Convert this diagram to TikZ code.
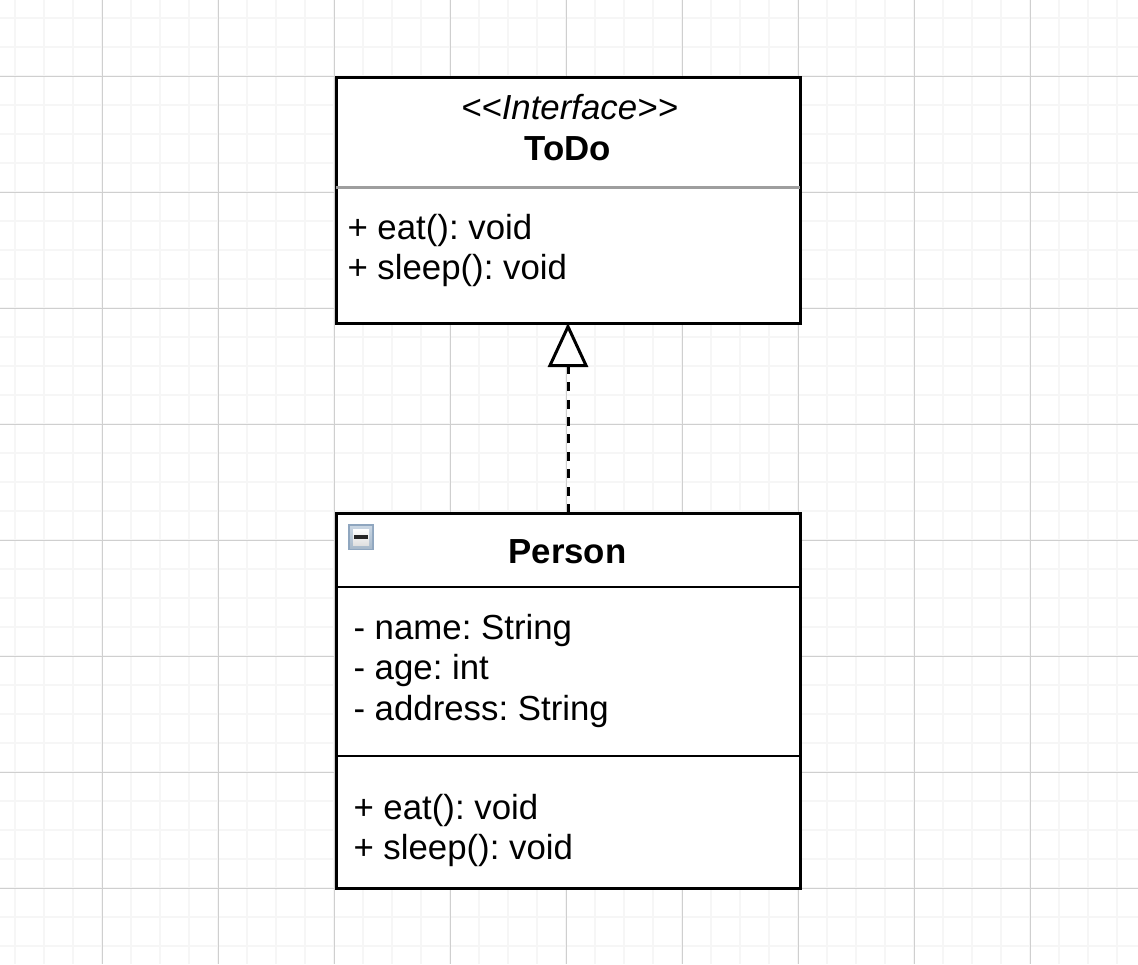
\documentclass[tikz,border=0pt]{standalone}
\usepackage{fontspec}
\setmainfont{Liberation Sans}
\frenchspacing
\usetikzlibrary{arrows.meta}
\definecolor{gridminor}{HTML}{F6F6F6}
\definecolor{gridmajor}{HTML}{CFCFCF}
\definecolor{iconedge}{HTML}{8FA6BF}
\definecolor{icontop}{HTML}{C9D6E3}
\definecolor{iconbot}{HTML}{A9BACB}
\tikzset{
  x=1pt,y=-1pt,
  classbox/.style={draw=black,line width=3pt,fill=white,minimum width=464pt,inner sep=0pt,outer sep=0pt},
  txt/.style={anchor=base west,inner sep=0pt,outer sep=0pt,font=\fontsize{34.8}{40}\selectfont},
  ctxt/.style={anchor=base,inner sep=0pt,outer sep=0pt,font=\fontsize{34.8}{40}\selectfont},
  divider/.style={draw=black,line width=2.7pt},
  softdivider/.style={draw=black!38,line width=3pt},
  realizes/.style={draw=black,line width=3pt,dash pattern=on 9pt off 8.4pt,
    -{Triangle[open,fill=white,length=44pt,width=40pt,line width=3pt]}},
}
\begin{document}
\begin{tikzpicture}
\useasboundingbox (0,0) rectangle (1138,964);
\fill[white] (0,0) rectangle (1138,964);
% minor grid
\foreach \k in {0,...,39} {\draw[gridminor,line width=2pt] ({15+29*\k},0) -- ({15+29*\k},964);}
\foreach \k in {0,...,33} {\draw[gridminor,line width=2pt] (0,{18+29*\k}) -- (1138,{18+29*\k});}
% major grid
\foreach \k in {0,...,8} {\draw[gridmajor,line width=1.3pt] ({102.5+116*\k},0) -- ({102.5+116*\k},964);}
\foreach \k in {0,...,7} {\draw[gridmajor,line width=1.3pt] (0,{76.5+116*\k}) -- (1138,{76.5+116*\k});}
% class boxes
\node[classbox,minimum height=246pt] (todo) at (568,200) {};
\node[classbox,minimum height=375pt] (person) at (568,700.5) {};
% dividers
\coordinate (todoL) at (336,187); \coordinate (todoR) at (800,187);
\coordinate (perL1) at (336,587); \coordinate (perR1) at (800,587);
\coordinate (perL2) at (336,756); \coordinate (perR2) at (800,756);
\draw[softdivider] (todoL) -- (todoR);
\draw[divider] (perL1) -- (perR1);
\draw[divider] (perL2) -- (perR2);
% connector
\draw[realizes] (person.north) -- (todo.south);
% ToDo texts
\node[ctxt] (stereo) at (569.5,119) {\itshape <{}<Interface>{}>};
\node[ctxt] (todoname) at (567.5,160) {\bfseries ToDo};
\node[txt] (todoeat) at (347.5,239) {+ eat(): void};
\node[txt] (todosleep) at (347.5,279) {+ sleep(): void};
% Person texts
\node[ctxt] (pername) at (567.5,563) {\bfseries Person};
\node[txt] (attr1) at (353.5,639) {- name: String};
\node[txt] (attr2) at (353.5,679) {- age: int};
\node[txt] (attr3) at (353.5,720) {- address: String};
\node[txt] (pereat) at (353.5,819) {+ eat(): void};
\node[txt] (persleep) at (353.5,859) {+ sleep(): void};
% collapse icon
\fill[iconedge] (348,524) rectangle (374,550);
\shade[top color=icontop,bottom color=iconbot] (350,526) rectangle (372,548);
\shade[top color=white,bottom color=black!12] (353,529) rectangle (369,545);
\fill[black!85] (354,534.5) rectangle (368,538.5);
\end{tikzpicture}
\end{document}
